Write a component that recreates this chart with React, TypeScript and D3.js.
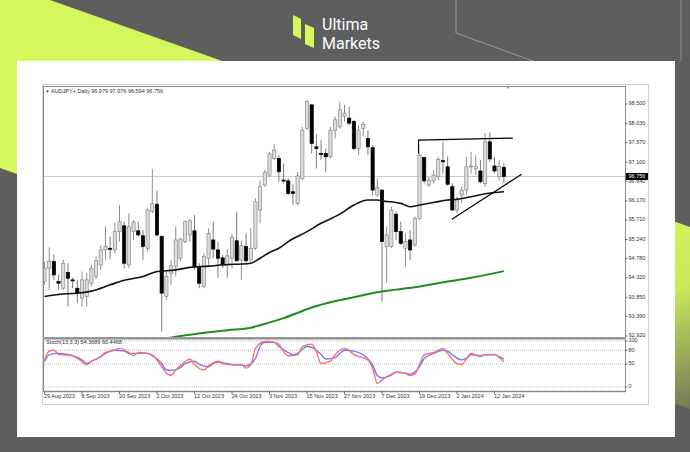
import React from 'react';
import * as d3 from 'd3';

// ---------- data ----------
const dateLabels = ['29 Aug 2023', '8 Sep 2023', '20 Sep 2023', '2 Oct 2023', '12 Oct 2023', '24 Oct 2023', '3 Nov 2023', '15 Nov 2023', '27 Nov 2023', '7 Dec 2023', '19 Dec 2023', '2 Jan 2024', '12 Jan 2024'];
const dateLabelIdx = [0, 8, 16, 24, 32, 40, 48, 56, 64, 72, 80, 88, 96];

const priceTicks = [98.5, 98.03, 97.57, 97.1, 96.64, 96.17, 95.71, 95.24, 94.78, 94.32, 93.85, 93.39, 92.92];
const lastPrice = 96.756;

const opens = [94.23, 94.55, 94.71, 94.23, 94.07, 94.45, 94.27, 94.07, 93.83, 93.87, 94.19, 94.35, 94.63, 94.99, 95.03, 94.99, 95.43, 95.57, 94.63, 95.43, 95.45, 95.33, 95.03, 95.91, 96.09, 95.31, 93.87, 94.43, 94.59, 94.79, 95.19, 95.35, 95.45, 94.59, 94.11, 94.79, 95.23, 94.99, 94.8, 94.63, 94.79, 95.21, 94.75, 95.07, 94.75, 95.03, 95.95, 96.55, 96.79, 97.19, 97.19, 96.67, 96.65, 96.39, 96.11, 96.71, 97.91, 98.48, 97.47, 97.31, 97.31, 97.23, 97.87, 97.95, 98.2, 98.16, 98.08, 97.43, 97.91, 97.67, 97.45, 96.31, 96.43, 95.07, 95.07, 95.85, 95.43, 95.03, 95.23, 95.11, 95.75, 97.21, 96.55, 96.65, 96.75, 97.14, 96.99, 96.51, 95.95, 96.31, 96.43, 96.99, 96.95, 96.89, 96.59, 97.59, 97.01, 96.75, 96.979];
const highs = [94.71, 95.05, 94.88, 94.39, 94.75, 94.67, 94.32, 94.27, 94.47, 94.43, 94.63, 94.83, 95.11, 95.55, 95.31, 95.65, 96.07, 95.67, 95.87, 95.71, 95.67, 95.47, 95.99, 96.94, 96.42, 95.35, 94.47, 94.75, 95.55, 95.29, 95.69, 95.73, 95.83, 94.67, 94.91, 95.51, 95.67, 95.19, 94.87, 95.01, 95.37, 95.91, 95.21, 95.39, 95.51, 96.23, 96.67, 96.91, 97.35, 97.53, 97.27, 97.07, 96.71, 96.57, 96.86, 97.95, 98.6, 98.49, 97.77, 97.63, 97.43, 97.95, 98.2, 98.56, 98.48, 98.44, 98.12, 97.99, 98.08, 97.87, 97.51, 96.71, 96.45, 95.55, 96.03, 95.91, 95.67, 95.39, 95.47, 95.79, 97.31, 97.23, 96.75, 96.91, 97.23, 97.59, 97.23, 96.59, 96.27, 96.51, 97.23, 97.35, 97.27, 97.15, 97.8, 97.81, 97.23, 97.15, 97.076];
const lows = [94.15, 94.03, 94.27, 94.03, 94.03, 93.63, 94.07, 93.71, 93.63, 93.63, 94.11, 94.29, 94.51, 94.75, 94.77, 94.91, 95.19, 94.55, 94.55, 95.23, 95.31, 94.75, 94.95, 95.87, 95.31, 93.03, 93.79, 94.15, 94.35, 94.71, 95.15, 95.19, 94.51, 94.07, 94.07, 94.63, 94.79, 94.32, 94.55, 94.32, 94.55, 94.71, 94.27, 94.67, 94.71, 94.99, 95.63, 96.51, 96.75, 97.15, 96.63, 96.59, 96.31, 96.07, 96.07, 96.67, 97.87, 97.31, 96.95, 97.15, 96.87, 97.19, 97.67, 97.91, 98.08, 97.99, 97.39, 97.27, 97.72, 97.27, 96.31, 96.27, 93.75, 94.19, 95.03, 95.23, 95.11, 94.59, 94.75, 95.07, 95.71, 96.59, 96.51, 96.59, 96.67, 96.83, 96.54, 95.93, 95.87, 96.11, 96.31, 96.83, 96.79, 96.59, 96.51, 97.11, 96.83, 96.67, 96.594];
const closes = [94.55, 94.72, 94.39, 94.19, 94.67, 94.31, 94.26, 93.95, 94.27, 94.27, 94.55, 94.73, 94.99, 95.07, 95.02, 95.43, 95.67, 94.67, 95.55, 95.66, 95.35, 95.07, 95.95, 96.11, 95.35, 93.95, 94.35, 94.61, 95.23, 95.25, 95.67, 95.69, 94.59, 94.19, 94.83, 95.39, 95.01, 94.79, 94.63, 94.85, 95.29, 94.73, 95.09, 94.73, 95.03, 96.15, 96.51, 96.85, 97.3, 97.39, 96.87, 96.65, 96.35, 96.35, 96.77, 97.87, 98.56, 97.55, 97.43, 97.3, 97.23, 97.87, 98.12, 98.36, 98.28, 98.04, 97.43, 97.87, 98.01, 97.47, 96.43, 96.49, 95.19, 95.35, 95.95, 95.43, 95.15, 95.19, 94.99, 95.75, 97.27, 96.65, 96.67, 96.79, 97.17, 97.11, 96.57, 95.95, 96.19, 96.43, 96.99, 97.01, 96.99, 96.63, 97.59, 97.18, 96.89, 97.0, 96.756];

// black moving average (bar index, price)
const maIdx = [0, 3, 7, 10, 14, 17, 21, 24, 25, 28, 31, 35, 39, 42, 44, 46, 48, 50, 52, 56, 59, 63, 66, 69, 71, 72, 76, 78, 80, 83, 86, 88, 91, 94, 98];
const maVal = [93.87, 93.92, 93.95, 94.0, 94.15, 94.26, 94.35, 94.47, 94.48, 94.51, 94.57, 94.6, 94.64, 94.65, 94.67, 94.79, 94.93, 95.03, 95.19, 95.43, 95.63, 95.85, 96.07, 96.19, 96.19, 96.17, 96.11, 96.03, 96.07, 96.13, 96.19, 96.21, 96.27, 96.34, 96.39];

// green long moving average
const ma2Idx = [26, 28, 35, 39, 44, 46, 51, 58, 65, 72, 79, 86, 91, 98];
const ma2Val = [92.86, 92.9, 93.01, 93.06, 93.12, 93.18, 93.35, 93.64, 93.83, 93.99, 94.09, 94.23, 94.32, 94.48];

// stochastic main (red) and signal (blue)
const kIdx = [0, 1, 2, 3, 6, 8, 9, 10, 12, 13, 15, 16, 18, 19, 20, 22, 23, 25, 26, 27, 28, 30, 31, 32, 34, 35, 37, 38, 40, 41, 42, 43, 44, 45, 47, 48, 50, 51, 52, 54, 55, 57, 58, 59, 61, 62, 64, 65, 66, 69, 70, 71, 72, 74, 75, 77, 78, 79, 80, 81, 83, 84, 85, 86, 88, 89, 90, 91, 93, 94, 96, 97, 98];
const kVal = [59, 78, 80, 71, 68, 55, 48, 56, 66, 75, 80, 84, 75, 68, 75, 73, 70, 44, 30, 25, 37, 55, 61, 49, 37, 46, 56, 51, 48, 48, 49, 41, 48, 84, 99, 99, 93, 77, 68, 70, 88, 93, 77, 51, 56, 70, 84, 79, 71, 59, 41, 8, 15, 28, 32, 30, 25, 28, 49, 70, 75, 80, 84, 73, 51, 49, 61, 73, 66, 70, 71, 64, 54.37];
const dIdx = [0, 1, 3, 5, 6, 8, 9, 10, 12, 13, 15, 17, 18, 20, 22, 23, 25, 26, 27, 29, 30, 32, 33, 35, 36, 37, 39, 40, 42, 43, 45, 46, 47, 49, 50, 52, 53, 54, 56, 57, 59, 60, 62, 63, 64, 66, 69, 70, 71, 72, 74, 75, 77, 78, 80, 81, 83, 85, 86, 87, 89, 90, 91, 93, 94, 96, 97, 98];
const dVal = [55, 70, 73, 71, 68, 59, 51, 56, 66, 73, 80, 78, 73, 73, 73, 68, 51, 37, 36, 42, 51, 56, 49, 44, 51, 54, 51, 49, 48, 46, 62, 88, 97, 97, 88, 75, 70, 73, 88, 86, 71, 61, 64, 73, 80, 78, 61, 48, 25, 20, 26, 32, 30, 28, 44, 62, 73, 80, 78, 70, 59, 62, 70, 68, 70, 70, 66, 60.45];
const stochLevels = [100, 80, 50, 0];

// drawn trend objects
const boxLineIdx = [79.8, 79.8, 99.9];
const boxLineVal = [97.31, 97.63, 97.68];
const trendIdx = [86.9, 101.8];
const trendVal = [95.73, 96.81];

// ---------- layout ----------
const plotL = 44, plotR = 625, plotT = 87, plotB = 337;
const stT = 339, stB = 391.5;
const tinyFont = '"Liberation Sans", Arial, sans-serif';

export default function App() {
  const x = d3.scaleLinear().domain([0, 96]).range([44.5, 494.5]);
  const y = d3.scaleLinear().domain([92.92, 98.5]).range([336, 104]);
  const ys = d3.scaleLinear().domain([0, 100]).range([387, 341]);

  const line = d3.line<[number, number]>().x(d => x(d[0])).y(d => y(d[1])).curve(d3.curveMonotoneX);
  const lineLin = d3.line<[number, number]>().x(d => x(d[0])).y(d => y(d[1]));
  const sLine = d3.line<[number, number]>().x(d => x(d[0])).y(d => ys(d[1])).curve(d3.curveMonotoneX);

  const ma = maIdx.map((v, i) => [v, maVal[i]] as [number, number]);
  const ma2 = ma2Idx.map((v, i) => [v, ma2Val[i]] as [number, number]);
  const kPts = kIdx.map((v, i) => [v, kVal[i]] as [number, number]);
  const dPts = dIdx.map((v, i) => [v, dVal[i]] as [number, number]);
  const box = boxLineIdx.map((v, i) => [v, boxLineVal[i]] as [number, number]);
  const trend = trendIdx.map((v, i) => [v, trendVal[i]] as [number, number]);

  const bw = 3.2;

  return (
    <svg width={690} height={452} style={{ position: 'absolute', left: 0, top: 0 }}>
      <defs>
        <linearGradient id="lime" gradientUnits="userSpaceOnUse" x1={600} y1={210} x2={690} y2={420}>
          <stop offset="0" stopColor="#d5f75d" />
          <stop offset="0.45" stopColor="#cbe85a" />
          <stop offset="1" stopColor="#6b6e56" />
        </linearGradient>
        <clipPath id="mainClip"><rect x={plotL} y={plotT} width={plotR - plotL} height={plotB - plotT} /></clipPath>
        <clipPath id="stClip"><rect x={plotL} y={stT} width={plotR - plotL} height={stB - stT} /></clipPath>
      </defs>
      {/* background */}
      <rect x={0} y={0} width={690} height={452} fill="#5e5e5e" />
      <polygon points="0,0 50,0 690,227 690,409 0,168" fill="url(#lime)" />
      <polyline points="456,0 456,33 533,61" fill="none" stroke="#9c9c9c" strokeWidth={1} />
      <line x1={681} y1={0} x2={681} y2={61} stroke="#8a8a8a" strokeWidth={1} />
      {/* logo */}
      <polygon points="293,15 301,19 301,39 293,35" fill="#d5f75d" />
      <polygon points="305,24 314,28 314,48 305,44" fill="#d5f75d" />
      <text x={322} y={29.5} fill="#ffffff" fontSize={16} fontFamily="Roboto, 'Noto Sans', sans-serif">Ultima</text>
      <text x={322} y={48.5} fill="#ffffff" fontSize={16} fontFamily="Roboto, 'Noto Sans', sans-serif">Markets</text>
      {/* card */}
      <rect x={17} y={61} width={658} height={376} fill="#ffffff" />
      {/* MT window */}
      <rect x={42.5} y={84.5} width={606} height={320} fill="#ffffff" stroke="#cfcfcf" strokeWidth={1} />
      <rect x={plotL - 0.5} y={plotT - 0.5} width={plotR - plotL + 1} height={plotB - plotT + 1} fill="#ffffff" stroke="#8a8a8a" strokeWidth={1} />
      <line x1={plotL} x2={plotR} y1={plotB + 1} y2={plotB + 1} stroke="#9a9a9a" strokeWidth={2} />
      <rect x={plotL - 0.5} y={stT} width={plotR - plotL + 1} height={stB - stT} fill="#ffffff" stroke="#8a8a8a" strokeWidth={1} />
      <line x1={plotL} x2={plotR + 0.5} y1={stB} y2={stB} stroke="#8a8a8a" strokeWidth={1.5} />

      {/* main chart */}
      <g clipPath="url(#mainClip)">
        <line x1={plotL} x2={plotR} y1={y(lastPrice)} y2={y(lastPrice)} stroke="#cccccc" strokeWidth={1} />
        {opens.map((o, i) => {
          const c = closes[i];
          const bull = c >= o;
          const cx = x(i);
          const top = y(Math.max(o, c));
          const h = Math.max(1, Math.abs(y(o) - y(c)));
          return (
            <g key={i}>
              <line x1={cx} x2={cx} y1={y(highs[i])} y2={y(lows[i])} stroke={bull ? '#8c8c8c' : '#7a7a7a'} strokeWidth={1} />
              <rect x={cx - bw / 2} y={top} width={bw} height={h}
                fill={bull ? '#dcdcdc' : '#000000'} stroke={bull ? '#8c8c8c' : '#000000'} strokeWidth={0.7} />
            </g>
          );
        })}
        <path d={line(ma2) || ''} fill="none" stroke="#1e8c1e" strokeWidth={2} />
        <path d={line(ma) || ''} fill="none" stroke="#111111" strokeWidth={1.6} />
        <path d={lineLin(box) || ''} fill="none" stroke="#000000" strokeWidth={1.2} />
        <path d={lineLin(trend) || ''} fill="none" stroke="#000000" strokeWidth={1.2} />
      </g>
      {/* chart shift marker */}
      <polygon points="505.5,86 510.5,86 508,89" fill="#9a9a9a" />
      {/* title */}
      <polygon points="46,90.5 49,90.5 47.5,92.5" fill="#333" />
      <text x={51} y={92} fontSize={5.5} fontFamily={tinyFont} fill="#333" dominantBaseline="middle">AUDJPY+,Daily  96.979 97.076 96.594 96.756</text>

      {/* price axis */}
      {priceTicks.map(t => (
        <g key={t}>
          <line x1={plotR} x2={plotR + 2.5} y1={y(t)} y2={y(t)} stroke="#555" strokeWidth={0.8} />
          <text x={628.5} y={y(t)} fontSize={5.5} fontFamily={tinyFont} fill="#333" dominantBaseline="middle">{t.toFixed(3)}</text>
        </g>
      ))}
      <rect x={626} y={y(lastPrice) - 3.5} width={22} height={7} fill="#000000" />
      <text x={628.5} y={y(lastPrice) + 0.2} fontSize={5.5} fontFamily={tinyFont} fill="#ffffff" dominantBaseline="middle">{lastPrice.toFixed(3)}</text>

      {/* stochastic */}
      <g clipPath="url(#stClip)">
        {stochLevels.map(l => (
          <line key={l} x1={plotL} x2={plotR} y1={ys(l)} y2={ys(l)} stroke="#a8a8a8" strokeWidth={0.8} strokeDasharray="1,1" />
        ))}
        <path d={sLine(dPts) || ''} fill="none" stroke="#7878f2" strokeWidth={1.4} />
        <path d={sLine(kPts) || ''} fill="none" stroke="#f77272" strokeWidth={1.4} />
      </g>
      <text x={46} y={342.5} fontSize={5.5} fontFamily={tinyFont} fill="#333" dominantBaseline="middle">Stoch(13,3,3) 54.3689 60.4468</text>
      {stochLevels.map(l => (
        <g key={l}>
          <line x1={plotR} x2={plotR + 2.5} y1={ys(l)} y2={ys(l)} stroke="#555" strokeWidth={0.8} />
          <text x={628.5} y={ys(l)} fontSize={5.5} fontFamily={tinyFont} fill="#333" dominantBaseline="middle">{l}</text>
        </g>
      ))}

      {/* date axis */}
      {dateLabels.map((d, i) => (
        <g key={d}>
          <line x1={x(dateLabelIdx[i])} x2={x(dateLabelIdx[i])} y1={stB} y2={stB + 2.5} stroke="#555" strokeWidth={0.8} />
          <text x={x(dateLabelIdx[i]) - 0.5} y={397} fontSize={5.5} fontFamily={tinyFont} fill="#333" dominantBaseline="middle">{d}</text>
        </g>
      ))}
    </svg>
  );
}
